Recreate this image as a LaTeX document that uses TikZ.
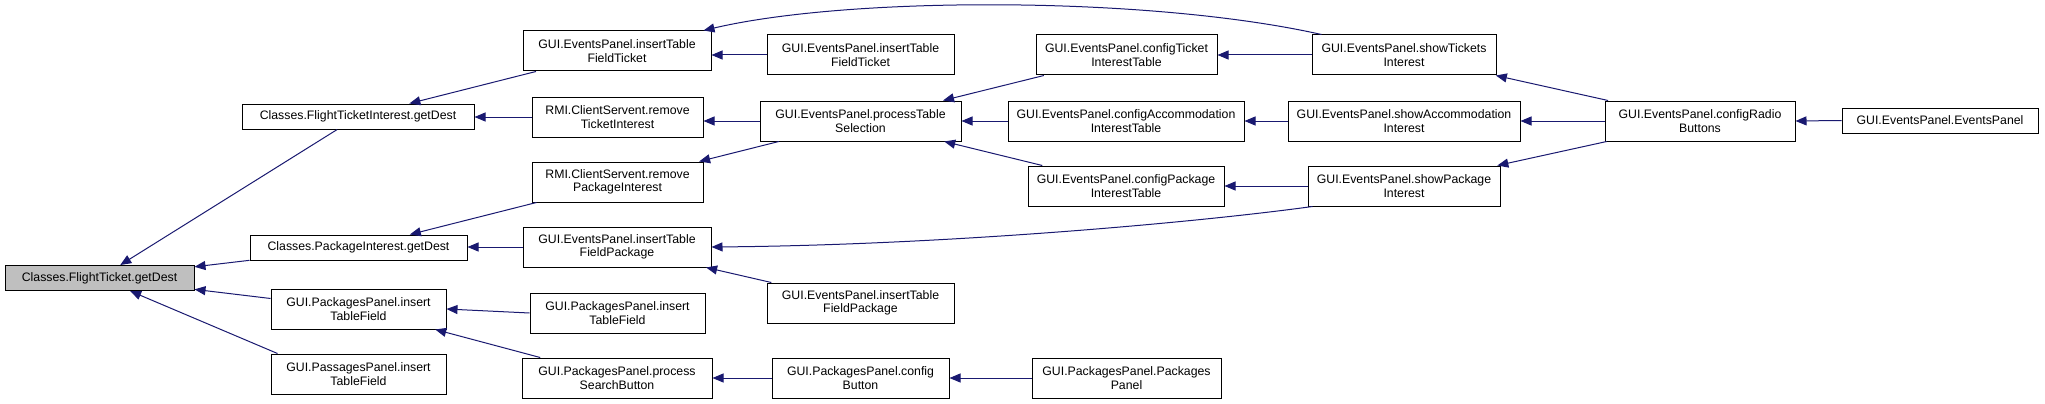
\documentclass[tikz,border=0pt]{standalone}
\usepackage{fontspec}
\setmainfont{Liberation Sans}
\usetikzlibrary{arrows.meta}

\begin{document}
\begin{tikzpicture}[
  x=1pt, y=-1pt,
  fn/.style={draw, line width=1pt, align=center, inner sep=1pt,
             font=\fontsize{12.3}{13.3}\selectfont, minimum height=40pt},
  one/.style={minimum height=25pt},
  edge/.style={->, draw={rgb,255:red,25;green,25;blue,112}, line width=1pt},
  >={Triangle[length=11pt,width=9pt]}
]
  \useasboundingbox (0,0) rectangle (2045,404);

  \node[fn, one, fill={rgb,255:red,191;green,191;blue,191}, minimum width=189pt]
        (root) at (99.5,278) {Classes.FlightTicket.getDest};

  \node[fn, one, minimum width=232pt] (fti)   at (358,116.5) {Classes.FlightTicketInterest.getDest};
  \node[fn, one, minimum width=217pt] (pi)    at (358.5,247.5) {Classes.PackageInterest.getDest};
  \node[fn, minimum width=175pt]      (ppit)  at (358.5,309) {GUI.PackagesPanel.insert\\TableField};
  \node[fn, minimum width=175pt]      (papit) at (358.5,374) {GUI.PassagesPanel.insert\\TableField};

  \node[fn, minimum width=188pt] (epft)  at (617,51)    {GUI.EventsPanel.insertTable\\FieldTicket};
  \node[fn, minimum width=171pt] (rmit)  at (617.5,117) {RMI.ClientServent.remove\\TicketInterest};
  \node[fn, minimum width=171pt] (rmip)  at (617.5,182) {RMI.ClientServent.remove\\PackageInterest};
  \node[fn, minimum width=188pt] (epfp)  at (617,247)   {GUI.EventsPanel.insertTable\\FieldPackage};
  \node[fn, minimum width=175pt] (ppit2) at (617.5,313) {GUI.PackagesPanel.insert\\TableField};
  \node[fn, minimum width=190pt] (ppsb)  at (617,378)   {GUI.PackagesPanel.process\\SearchButton};

  \node[fn, minimum width=187pt] (epft2) at (860.5,55)  {GUI.EventsPanel.insertTable\\FieldTicket};
  \node[fn, minimum width=201pt] (pts)   at (860.5,121) {GUI.EventsPanel.processTable\\Selection};
  \node[fn, minimum width=187pt] (epfp2) at (860.5,303) {GUI.EventsPanel.insertTable\\FieldPackage};
  \node[fn, minimum width=177pt] (ppcb)  at (860.5,378) {GUI.PackagesPanel.config\\Button};

  \node[fn, minimum width=181pt] (ctit) at (1126.5,55) {GUI.EventsPanel.configTicket\\InterestTable};
  \node[fn, minimum width=236pt] (cait) at (1126,121)  {GUI.EventsPanel.configAccommodation\\InterestTable};
  \node[fn, minimum width=196pt] (cpit) at (1126,186)  {GUI.EventsPanel.configPackage\\InterestTable};
  \node[fn, minimum width=189pt] (ppp)  at (1126.5,378) {GUI.PackagesPanel.Packages\\Panel};

  \node[fn, minimum width=184pt] (sti) at (1404,55)  {GUI.EventsPanel.showTickets\\Interest};
  \node[fn, minimum width=232pt] (sai) at (1404,121) {GUI.EventsPanel.showAccommodation\\Interest};
  \node[fn, minimum width=192pt] (spi) at (1404,186) {GUI.EventsPanel.showPackage\\Interest};

  \node[fn, minimum width=190pt]      (crb)  at (1700,121)   {GUI.EventsPanel.configRadio\\Buttons};
  \node[fn, one, minimum width=196pt] (epep) at (1940,120.5) {GUI.EventsPanel.EventsPanel};

  % callers point back to the function they call
  \draw[edge] (fti) -- (root);
  \draw[edge] (pi) -- (root);
  \draw[edge] (ppit) -- (root);
  \draw[edge] ([xshift=7pt]papit.north west) -- (root);

  \draw[edge] (epft) -- (fti);
  \draw[edge] (rmit.west) -- (fti.east |- rmit.west);
  \draw[edge] (rmip) -- (pi);
  \draw[edge] (epfp.west) -- (pi.east |- epfp.west);
  \draw[edge] (ppit2.west) -- (ppit.east);
  \draw[edge] (ppsb) -- (ppit);

  \draw[edge] (epft2.west) -- (epft.east |- epft2.west);
  \draw[edge] ([xshift=10pt]sti.north west)
      .. controls (1150,-4) and (850,-4) .. ([xshift=-8pt]epft.north east);
  \draw[edge] (pts.west) -- (rmit.east |- pts.west);
  \draw[edge] (pts) -- (rmip);
  \draw[edge] ([xshift=5pt]spi.south west)
      .. controls (1200,222) and (950,245) .. (epfp.east);
  \draw[edge] (epfp2) -- (epfp);
  \draw[edge] (ppcb.west) -- (ppsb.east);

  \draw[edge] (ctit) -- (pts);
  \draw[edge] (cait.west) -- (pts.east);
  \draw[edge] (cpit) -- (pts);
  \draw[edge] (ppp.west) -- (ppcb.east);

  \draw[edge] (sti.west) -- (ctit.east);
  \draw[edge] (sai.west) -- (cait.east);
  \draw[edge] (spi.west) -- (cpit.east);

  \draw[edge] (crb) -- (sti);
  \draw[edge] (crb.west) -- (sai.east);
  \draw[edge] (crb) -- (spi);
  \draw[edge] (epep.west) -- (crb.east);
\end{tikzpicture}
\end{document}
